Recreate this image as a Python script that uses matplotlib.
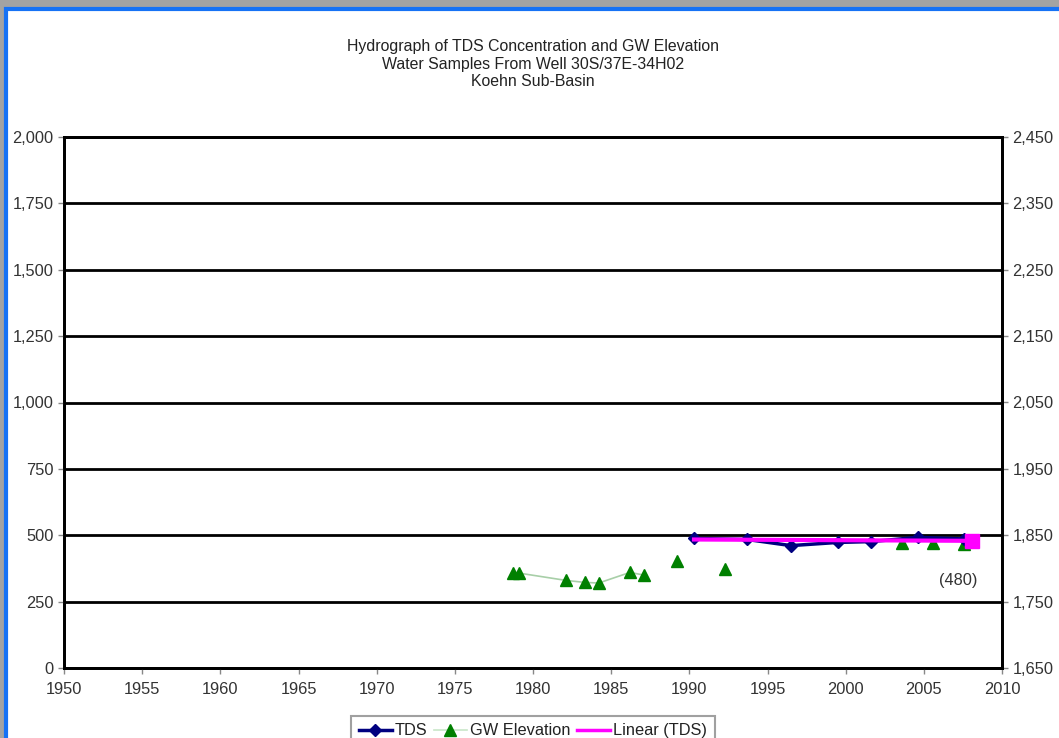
import matplotlib.pyplot as plt
from matplotlib.patches import Rectangle
from matplotlib.ticker import FuncFormatter, MultipleLocator, FixedLocator

# data
tds_years = [1990.3, 1993.7, 1996.5, 1999.5, 2001.6, 2004.6, 2007.6]
tds_values = [488, 484, 461, 473, 476, 492, 486]

gw_years_line = [1978.7, 1979.1, 1982.1, 1983.3, 1984.2, 1986.2, 1987.1]
gw_values_line = [1793, 1793, 1782, 1779, 1778, 1794, 1790]
gw_years_pts = [1989.2, 1992.3, 2003.6, 2005.6, 2007.6]
gw_values_pts = [1811, 1799, 1839, 1838, 1837]

trend_years = [1990.3, 2008.1]
trend_values = [484, 479]
trend_label = "(480)"

right_ticks = [1650, 1750, 1850, 1950, 2050, 2150, 2250, 2350, 2450]

title_lines = ["Hydrograph of TDS Concentration and GW Elevation",
               "Water Samples From Well 30S/37E-34H02",
               "Koehn Sub-Basin"]

plt.rcParams['font.family'] = ['Liberation Sans', 'DejaVu Sans']

fig = plt.figure(figsize=(10.59, 7.38), dpi=100, facecolor='#a3a3a3')

# white panel with blue frame
panel = Rectangle((6 / 1059, -0.05), 1.2, (738 - 8.5) / 738 + 0.05, transform=fig.transFigure,
                  facecolor='white', edgecolor='#1672f5', linewidth=3, zorder=-10)
fig.patches.append(panel)

ax = fig.add_axes([64 / 1059, 70 / 738, 938 / 1059, 531 / 738])
ax2 = ax.twinx()

ax.set_xlim(1950, 2010)
ax.set_ylim(0, 2000)
ax2.set_ylim(1650, 2450)

ax.xaxis.set_major_locator(MultipleLocator(5))
ax.yaxis.set_major_locator(MultipleLocator(250))
ax2.yaxis.set_major_locator(FixedLocator(right_ticks))
comma = FuncFormatter(lambda v, p: f"{v:,.0f}")
ax.yaxis.set_major_formatter(comma)
ax2.yaxis.set_major_formatter(comma)

ax.grid(axis='y', color='black', linewidth=2)
ax.set_axisbelow(True)
for a in (ax, ax2):
    for s in a.spines.values():
        s.set_linewidth(2)
    a.tick_params(direction='out', length=4, width=1, color='#888888',
                  labelsize=11.8, labelcolor='#333333')
ax.tick_params(axis='x', pad=6)

ax2.plot(gw_years_line, gw_values_line, color='#a8cfa8', linewidth=1.2, zorder=2)
ax2.plot(gw_years_line + gw_years_pts, gw_values_line + gw_values_pts, linestyle='none',
         marker='^', markersize=8, color='#008000', zorder=3)

ax.plot(tds_years, tds_values, color='#000080', linewidth=2.5, marker='D', markersize=6, zorder=3)
ax.plot(trend_years, trend_values, color='#ff00ff', linewidth=3, zorder=4)
ax.plot(trend_years[-1], trend_values[-1], marker='s', markersize=10, color='#ff00ff',
        linestyle='none', zorder=5)
ax.text(2007.2, 330, trend_label, ha='center', va='center', fontsize=11.8, color='#333333')

ax.set_zorder(ax2.get_zorder() + 1)
ax.patch.set_visible(False)
ax2.set_facecolor('white')

for i, line in enumerate(title_lines):
    fig.text(533 / 1059, 1 - (46.5 + 17.5 * i) / 738, line, ha='center', va='center',
             fontsize=11.4, color='#222222')

h_tds, = ax.plot([], [], color='#000080', linewidth=2.5, marker='D', markersize=6)
h_gw, = ax.plot([], [], color='#c8e6c8', linewidth=1.2, marker='^', markersize=8,
                markerfacecolor='#008000', markeredgecolor='#008000')
h_tr, = ax.plot([], [], color='#ff00ff', linewidth=2.5)
leg = fig.legend([h_tds, h_gw, h_tr], ["TDS", "GW Elevation", "Linear (TDS)"],
                 loc='upper center', bbox_to_anchor=(533 / 1059, 22 / 738), ncol=3,
                 frameon=True, fancybox=False, edgecolor='#888888', fontsize=11.8,
                 handlelength=2.0, handletextpad=0.2, columnspacing=0.4,
                 borderpad=0.45, borderaxespad=0)
leg.get_frame().set_linewidth(1.5)
for t in leg.get_texts():
    t.set_color('#222222')

fig.savefig('out.png', dpi=100, facecolor=fig.get_facecolor())
